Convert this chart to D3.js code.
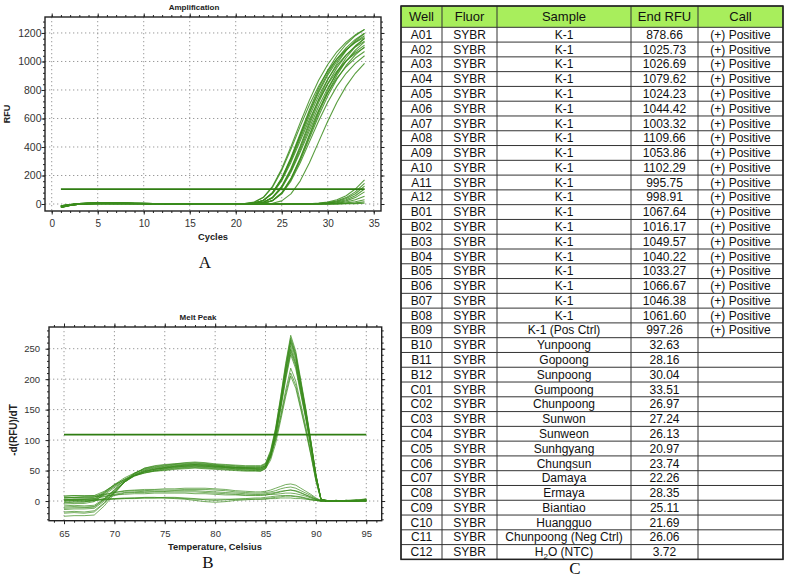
<!DOCTYPE html>
<html><head><meta charset="utf-8">
<script src="https://cdn.jsdelivr.net/npm/d3@7"></script>
<style>html,body{margin:0;padding:0;background:#fff;} svg{display:block;}</style>
</head><body>
<svg id="fig" width="789" height="580"></svg>
<script>
// ---------------- DATA ----------------
const cycles = [1,2,3,4,5,6,7,8,9,10,11,12,13,14,15,16,17,18,19,20,21,22,23,24,25,26,27,28,29,30,31,32,33,34];
const ampPositive = [
 [-18,-6,2,5,6,6,5,5,4,4,3,3,3,2,2,2,2,1,1, 1,3,13,47,124,247,402,569,727,866,979,1068,1136,1187,1224],
 [-12,-3,3,6,7,7,6,6,5,5,4,4,3,3,3,2,2,2,1, 1,3,12,45,118,236,384,543,694,826,934,1019,1084,1133,1169],
 [-22,-9,0,4,5,6,6,5,5,4,4,3,3,3,2,2,1,1,0, 0,1,5,25,80,183,327,493,660,811,939,1042,1121,1181,1225],
 [-16,-5,1,4,5,5,5,4,4,4,3,3,2,2,2,1,1,1,0, 1,2,6,25,78,176,314,475,636,781,904,1003,1079,1137,1180],
 [-25,-10,-1,3,5,5,5,5,4,4,3,3,3,2,2,1,1,1,1, 1,2,6,25,76,171,305,460,616,757,876,972,1046,1102,1143],
 [-18,-6,2,5,6,6,5,5,4,4,3,3,3,2,2,2,2,1,1, 1,2,6,24,73,164,292,442,591,727,841,933,1004,1058,1097],
 [-12,-3,3,6,7,7,6,6,5,5,4,4,3,3,3,2,2,2,1, 1,1,3,13,47,125,249,405,573,733,872,986,1076,1145,1196],
 [-22,-9,0,4,5,6,6,5,5,4,4,3,3,3,2,2,1,1,0, 0,1,2,12,46,121,241,393,556,711,846,957,1044,1110,1160],
 [-16,-5,1,4,5,5,5,4,4,4,3,3,2,2,2,1,1,1,0, 0,1,2,11,44,116,232,378,534,683,813,920,1003,1067,1115],
 [-25,-10,-1,3,5,5,5,5,4,4,3,3,3,2,2,1,1,1,1, 1,1,3,12,43,112,223,363,513,656,780,883,963,1024,1070],
 [-18,-6,2,5,6,6,5,5,4,4,3,3,3,2,2,2,2,1,1, 1,1,2,6,25,79,180,322,486,650,799,925,1026,1104,1163],
 [-12,-3,3,6,7,7,6,6,5,5,4,4,3,3,3,2,2,2,1, 1,1,2,6,24,75,170,305,460,616,757,876,972,1046,1102],
 [-16,-5,1,4,5,5,5,4,4,4,3,3,2,2,2,1,1,1,0, 0,0,1,5,22,71,161,288,434,581,714,827,917,987,1040],
 [-22,-9,0,4,5,6,6,5,5,4,4,3,3,3,2,2,1,1,0, 0,0,0,1,5,22,71,161,288,434,581,714,827,917,987],
 [-12,-3,3,6,7,7,6,6,5,5,4,4,3,3,3,2,2,2,1, 1,1,5,25,79,179,319,482,645,793,918,1018,1096,1155,1198],
 [-25,-10,-1,3,5,5,5,5,4,4,3,3,3,2,2,1,1,1,1, 1,1,1,5,24,77,176,314,475,636,781,904,1003,1079,1137]
];
const ampNegative = [
 [-20,-8,-1,2,3,3,3,2,2,2, 1,1,1,1,0,0,0,0,0,0, 0,0,0,0,0,0,1, 2,6,14,30,58,105,170],
 [-15,-5,1,3,4,4,3,3,2,2, 2,1,1,1,1,0,0,0,0,0, 0,0,0,0,0,0,0, 1,4,10,22,45,85,145],
 [-18,-7,0,2,3,3,2,2,2,1, 1,1,1,0,0,0,0,0,0,0, 0,0,0,0,0,0,0, 1,3,8,18,38,72,125],
 [-24,-10,-2,1,2,3,3,2,2,2, 1,1,1,1,1,0,0,0,0,0, 0,0,0,0,0,0,0, 0,1,6,14,30,58,105],
 [-12,-4,1,3,3,3,3,2,2,2, 2,1,1,1,1,1,0,0,0,0, 0,0,0,0,0,0,0, 0,1,4,10,22,45,85],
 [-20,-8,-1,2,3,3,3,3,2,2, 2,2,1,1,1,1,0,0,0,0, 0,0,0,0,0,0,0, 0,0,1,6,14,30,55],
 [-16,-6,0,2,3,3,2,2,2,2, 1,1,1,1,0,0,0,0,0,0, 0,0,0,0,0,0,0, 0,0,1,3,8,16,30],
 [-22,-9,-1,1,2,2,2,2,2,1, 1,1,1,0,0,0,0,0,0,0, 0,0,0,0,0,0,0, 0,0,0,1,4,8,15],
 [-14,-5,0,1,2,2,2,2,1,1, 1,1,0,0,0,0,0,0,0,0, 0,0,0,0,0,0,0, 0,0,0,1,2,3,5]
];
const ampThreshold = 105;
const ampXTicks = [0,5,10,15,20,25,30,35];
const ampYTicks = [0,200,400,600,800,1000,1200];

const temps = [65,66,67,68,69,70,71,72,73,74,75,76,77,78,79,80,81,82,83,84,84.5,85,85.5,86,86.5,87,87.5,88,88.5,89,89.5,90,90.5,91,92,93,94,95];
const meltPositive = [
 [-25,-24,-24,-23,-8,12,31,45,54,58,60,61,63,64,63,61,60,59,58,58,58,62,83,120,171,226,272,246,199,152,99,44,3,1,0,0,1,2],
 [-18,-17,-18,-16,-3,14,31,43,51,54,56,58,59,60,59,58,56,55,55,54,54,58,78,115,165,219,265,240,194,148,97,43,3,0,1,0,0,3],
 [-14,-13,-13,-12,0,15,31,42,49,52,54,56,57,58,57,56,55,53,53,52,52,56,76,112,162,215,260,235,190,145,95,42,3,1,0,1,0,1],
 [-10,-9,-10,-9,3,19,34,46,53,56,58,60,61,62,61,59,58,57,56,56,56,60,79,113,161,212,255,230,186,142,93,41,3,0,0,1,2,0],
 [-8,-7,-8,-7,4,18,31,41,48,50,52,54,55,56,55,54,53,52,51,50,50,54,73,108,156,207,250,226,183,139,91,40,3,1,0,0,1,4],
 [-5,-4,-4,-1,12,24,33,42,48,52,55,57,59,60,59,57,56,55,54,54,54,58,76,110,157,206,248,224,181,138,91,40,3,0,1,0,0,2],
 [-3,-2,-2,2,14,27,35,41,46,50,53,55,56,57,56,55,54,53,52,52,51,55,73,107,153,202,244,221,178,136,89,39,3,1,0,1,0,1],
 [0,1,0,1,10,22,33,42,47,49,51,53,54,55,54,53,52,51,50,50,49,53,71,104,150,199,240,217,175,134,88,39,3,0,0,0,1,3],
 [2,3,3,4,13,25,36,44,50,53,55,57,58,59,58,57,56,55,54,53,53,57,72,101,140,182,218,197,159,122,80,35,3,1,0,0,0,1],
 [5,6,5,6,15,27,38,46,52,55,57,59,60,61,60,59,57,56,55,55,55,58,73,100,137,176,210,190,153,117,77,34,2,0,1,0,2,0],
 [8,9,9,9,16,26,35,42,46,49,50,52,53,54,53,52,51,50,49,49,49,53,67,94,132,171,205,185,150,114,75,33,2,1,0,1,0,2],
 [-12,-11,-11,-10,2,17,31,42,49,52,54,56,57,58,57,56,55,54,53,53,52,56,76,113,163,216,262,237,191,146,96,42,3,0,0,1,1,0],
 [-20,-19,-20,-18,-4,14,32,45,54,57,59,61,62,63,62,60,59,58,57,57,57,61,81,118,169,223,268,242,196,149,98,43,3,1,0,0,0,2]
];
const meltNegative = [
 [5,6,6,7,10,14,17,18,19,19,20,20,21,21,21,20,19,17,16,15,15,16,18,21,24,27,28,26,21,16,11,5,1,0,1,0,0,1],
 [8,9,8,9,11,14,16,17,17,18,18,18,19,19,19,18,17,15,14,13,13,14,15,17,20,22,23,21,17,13,9,4,1,0,0,1,0,0],
 [2,3,3,4,7,11,14,15,16,16,16,17,17,17,16,15,14,13,12,11,11,12,13,14,16,17,18,16,13,10,7,3,0,0,0,0,1,0],
 [-2,-1,-1,0,4,9,13,14,14,15,15,15,15,15,14,13,12,11,10,10,10,10,11,11,12,13,13,12,10,8,5,2,0,0,1,0,0,1],
 [0,1,1,1,2,3,4,5,5,5,6,6,5,4,2,1,2,3,4,5,5,6,7,8,9,9,9,8,7,5,3,1,0,0,0,0,0,0],
 [3,3,3,3,3,4,4,4,5,5,5,5,4,3,3,3,3,3,3,3,3,3,4,4,5,5,5,4,4,3,2,1,0,0,0,0,0,0],
 [6,6,7,7,8,10,11,12,12,13,13,13,13,12,12,11,10,10,9,9,9,10,11,13,15,17,18,17,14,10,6,3,0,0,0,0,1,0],
 [1,2,2,2,3,4,5,5,6,6,5,4,3,1,-1,-2,-1,1,2,3,3,4,5,6,7,8,8,7,6,4,2,1,0,0,0,0,0,1]
];
const meltThreshold = 109;
const meltXTicks = [65,70,75,80,85,90,95];
const meltYTicks = [0,50,100,150,200,250];

const tableHeader = ["Well","Fluor","Sample","End RFU","Call"];
const wells = ["A01","A02","A03","A04","A05","A06","A07","A08","A09","A10","A11","A12",
 "B01","B02","B03","B04","B05","B06","B07","B08","B09","B10","B11","B12",
 "C01","C02","C03","C04","C05","C06","C07","C08","C09","C10","C11","C12"];
const fluors = wells.map(() => "SYBR");
const samples = ["K-1","K-1","K-1","K-1","K-1","K-1","K-1","K-1","K-1","K-1","K-1","K-1",
 "K-1","K-1","K-1","K-1","K-1","K-1","K-1","K-1","K-1 (Pos Ctrl)","Yunpoong","Gopoong","Sunpoong",
 "Gumpoong","Chunpoong","Sunwon","Sunweon","Sunhgyang","Chungsun","Damaya","Ermaya","Biantiao","Huangguo","Chunpoong (Neg Ctrl)","H2O (NTC)"];
const endRFU = ["878.66","1025.73","1026.69","1079.62","1024.23","1044.42","1003.32","1109.66","1053.86","1102.29","995.75","998.91",
 "1067.64","1016.17","1049.57","1040.22","1033.27","1066.67","1046.38","1061.60","997.26","32.63","28.16","30.04",
 "33.51","26.97","27.24","26.13","20.97","23.74","22.26","28.35","25.11","21.69","26.06","3.72"];
const calls = ["(+) Positive","(+) Positive","(+) Positive","(+) Positive","(+) Positive","(+) Positive","(+) Positive","(+) Positive","(+) Positive","(+) Positive","(+) Positive","(+) Positive",
 "(+) Positive","(+) Positive","(+) Positive","(+) Positive","(+) Positive","(+) Positive","(+) Positive","(+) Positive","(+) Positive","","","",
 "","","","","","","","","","","",""];

// ---------------- DRAW ----------------
const svg = d3.select("#fig");
const FONT = "Liberation Sans, Arial, sans-serif";
const lineGreen = "#3b8c1c";
const threshGreen = "#2f7d12";

function panel(cfg) {
  const x = cfg.x, y = cfg.y;
  const [x0, x1] = x.range();
  const [yb, yt] = y.range();
  const g = svg.append("g");
  // grid
  g.append("g").selectAll("line").data(cfg.xMajor).join("line")
    .attr("x1", d => x(d)).attr("x2", d => x(d)).attr("y1", yt).attr("y2", yb)
    .attr("stroke", "#9a9a9a").attr("stroke-width", 1).attr("stroke-dasharray", "1.3,2.7");
  g.append("g").selectAll("line").data(cfg.yMajor).join("line")
    .attr("x1", x0).attr("x2", x1).attr("y1", d => y(d)).attr("y2", d => y(d))
    .attr("stroke", "#9a9a9a").attr("stroke-width", 1).attr("stroke-dasharray", "1.3,2.7");
  // ticks (outward on all four sides)
  const noDomain = s => { s.select(".domain").remove(); s.selectAll("line").attr("stroke", "#222"); };
  const tk = (axisFn, scale, vals, size, tr) =>
    g.append("g").attr("transform", tr)
      .call(axisFn(scale).tickValues(vals).tickSize(size).tickFormat(""))
      .call(noDomain);
  tk(d3.axisBottom, x, cfg.xMinor, 2, `translate(0,${yb})`);
  tk(d3.axisBottom, x, cfg.xMajor, 3.5, `translate(0,${yb})`);
  tk(d3.axisTop, x, cfg.xMinor, 2, `translate(0,${yt})`);
  tk(d3.axisTop, x, cfg.xMajor, 3.5, `translate(0,${yt})`);
  tk(d3.axisLeft, y, cfg.yMinor, 2, `translate(${x0},0)`);
  tk(d3.axisLeft, y, cfg.yMajor, 3.5, `translate(${x0},0)`);
  tk(d3.axisRight, y, cfg.yMinor, 2, `translate(${x1},0)`);
  tk(d3.axisRight, y, cfg.yMajor, 3.5, `translate(${x1},0)`);
  // labels
  const fmt = d3.format("d");
  const xl = g.append("g").attr("transform", `translate(0,${yb})`)
    .call(d3.axisBottom(x).tickValues(cfg.xMajor).tickSize(0).tickPadding(cfg.xPad).tickFormat(fmt));
  xl.select(".domain").remove();
  xl.selectAll("text").attr("font-family", FONT).attr("font-size", cfg.xFont).attr("fill", "#333");
  xl.attr("font-size", null).attr("font-family", null);
  const yl = g.append("g").attr("transform", `translate(${x0},0)`)
    .call(d3.axisLeft(y).tickValues(cfg.yMajor).tickSize(0).tickPadding(cfg.yPad).tickFormat(fmt));
  yl.select(".domain").remove();
  yl.selectAll("text").attr("font-family", FONT).attr("font-size", cfg.yFont).attr("fill", "#333");
  yl.attr("font-size", null).attr("font-family", null);
  // curves
  const clipId = "clip" + cfg.id;
  svg.append("defs").append("clipPath").attr("id", clipId).append("rect")
    .attr("x", x0).attr("y", yt).attr("width", x1 - x0).attr("height", yb - yt);
  const cg = g.append("g").attr("clip-path", `url(#${clipId})`);
  const line = d3.line().x(d => x(d[0])).y(d => y(d[1]));
  cg.selectAll("path.c").data(cfg.series).join("path").attr("class", "c")
    .attr("d", s => line(cfg.xs.map((xv, i) => [xv, s[i]])))
    .attr("fill", "none").attr("stroke", lineGreen).attr("stroke-width", cfg.sw)
    .attr("stroke-opacity", cfg.op).attr("stroke-linejoin", "round");
  // threshold
  cg.append("path").attr("d", line([[cfg.thX[0], cfg.th], [cfg.thX[1], cfg.th]]))
    .attr("stroke", threshGreen).attr("stroke-width", 1.8).attr("fill", "none");
  // frame
  g.append("rect").attr("x", x0).attr("y", yt).attr("width", x1 - x0).attr("height", yb - yt)
    .attr("fill", "none").attr("stroke", "#222").attr("stroke-width", 1.4);
  // titles
  g.append("text").attr("x", cfg.title[1]).attr("y", cfg.title[2]).attr("text-anchor", "middle")
    .attr("font-family", FONT).attr("font-weight", "bold").attr("font-size", 8).attr("fill", "#222").text(cfg.title[0]);
  g.append("text").attr("x", cfg.xTitle[1]).attr("y", cfg.xTitle[2]).attr("text-anchor", "middle")
    .attr("font-family", FONT).attr("font-weight", "bold").attr("font-size", 9.3).attr("fill", "#222").text(cfg.xTitle[0]);
  g.append("text").attr("transform", `translate(${cfg.yTitle[1]},${cfg.yTitle[2]}) rotate(-90)`).attr("text-anchor", "middle")
    .attr("font-family", FONT).attr("font-weight", "bold").attr("font-size", cfg.yTitle[3]).attr("fill", "#222").text(cfg.yTitle[0]);
}

// Amplification panel
const ampX = d3.scaleLinear().domain([-0.73, 35.79]).range([45, 381]);
const ampY = d3.scaleLinear().domain([-49, 1312]).range([211, 17]);
panel({
  id: "amp", x: ampX, y: ampY,
  xMajor: ampXTicks, xMinor: d3.range(0, 36, 1), yMajor: ampYTicks, yMinor: d3.range(0, 1301, 40),
  xPad: 9, yPad: 3.5, xFont: 10, yFont: 10.5,
  xs: cycles, series: ampNegative.concat(ampPositive), sw: 1.1, op: 0.85,
  th: ampThreshold, thX: [cycles[0], cycles[cycles.length - 1]],
  title: ["Amplification", 194, 9.5], xTitle: ["Cycles", 213, 239.5], yTitle: ["RFU", 10, 114, 9]
});

// Melt peak panel
const meltX = d3.scaleLinear().domain([63.51, 96.53]).range([49, 381.7]);
const meltY = d3.scaleLinear().domain([-32.3, 285.6]).range([520.7, 327]);
panel({
  id: "melt", x: meltX, y: meltY,
  xMajor: meltXTicks, xMinor: d3.range(64, 97, 1), yMajor: meltYTicks, yMinor: d3.range(-30, 281, 10),
  xPad: 9.9, yPad: 9, xFont: 9.5, yFont: 9.5,
  xs: temps, series: meltNegative.concat(meltPositive), sw: 1, op: 0.7,
  th: meltThreshold, thX: [temps[0], temps[temps.length - 1]],
  title: ["Melt Peak", 198, 319.5], xTitle: ["Temperature, Celsius", 215, 549.5], yTitle: ["-d(RFU)/dT", 17, 430, 10]
});

// Panel letters
const letters = [["A", 205, 268], ["B", 208, 568], ["C", 575, 574]];
svg.selectAll("text.letter").data(letters).join("text").attr("class", "letter")
  .attr("x", d => d[1]).attr("y", d => d[2]).attr("text-anchor", "middle")
  .attr("font-family", "Liberation Serif, 'Times New Roman', serif").attr("font-size", 17).attr("fill", "#111")
  .text(d => d[0]);

// ---------------- TABLE ----------------
const colX = [401, 442, 497, 631, 698, 783];
const headTop = 6, headBot = 27.3, rowH = 14.78;
const rows = wells.map((w, i) => [w, fluors[i], samples[i], endRFU[i], calls[i]]);
const tableBot = headBot + rows.length * rowH;
const tg = svg.append("g");
tg.append("rect").attr("x", colX[0]).attr("y", headTop).attr("width", colX[5] - colX[0]).attr("height", headBot - headTop)
  .attr("fill", "#a8ee5c");
tg.selectAll("text.h").data(tableHeader).join("text").attr("class", "h")
  .attr("x", (d, i) => (colX[i] + colX[i + 1]) / 2).attr("y", 21.3).attr("text-anchor", "middle")
  .attr("font-family", FONT).attr("font-size", 13).attr("fill", "#111").text(d => d);
const rowG = tg.selectAll("g.r").data(rows).join("g").attr("class", "r")
  .attr("transform", (d, i) => `translate(0,${headBot + i * rowH + rowH / 2 + 4.2})`);
rowG.selectAll("text").data(d => d).join("text")
  .attr("x", (d, i) => (colX[i] + colX[i + 1]) / 2).attr("y", 0).attr("text-anchor", "middle")
  .attr("font-family", FONT).attr("font-size", 12).attr("fill", "#111")
  .each(function(d) {
    const t = d3.select(this);
    if (d === "H2O (NTC)") {
      t.append("tspan").text("H");
      t.append("tspan").attr("font-size", 8).attr("dy", 2.5).text("2");
      t.append("tspan").attr("dy", -2.5).text("O (NTC)");
    } else t.text(d);
  });
const hLines = [headTop, headBot].concat(rows.map((r, i) => headBot + (i + 1) * rowH));
tg.selectAll("line.hl").data(hLines).join("line").attr("class", "hl")
  .attr("x1", colX[0]).attr("x2", colX[5]).attr("y1", d => d).attr("y2", d => d)
  .attr("stroke", "#333").attr("stroke-width", 1);
tg.selectAll("line.vl").data(colX).join("line").attr("class", "vl")
  .attr("x1", d => d).attr("x2", d => d).attr("y1", headTop).attr("y2", tableBot)
  .attr("stroke", "#333").attr("stroke-width", 1);
tg.append("rect").attr("x", colX[0]).attr("y", headTop).attr("width", colX[5] - colX[0]).attr("height", tableBot - headTop)
  .attr("fill", "none").attr("stroke", "#222").attr("stroke-width", 1.5);
</script>
</body></html>
